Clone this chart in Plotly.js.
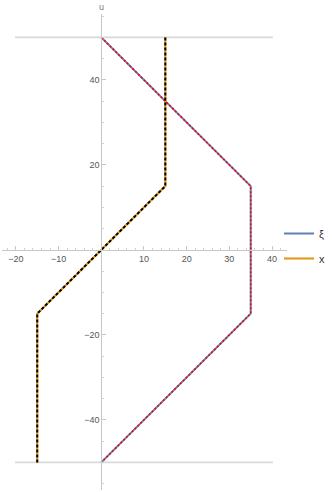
<!DOCTYPE html>
<html>
<head>
<meta charset="utf-8">
<script src="https://cdn.plot.ly/plotly-3.0.1.min.js"></script>
<style>
  html, body { margin: 0; padding: 0; background: #fff; }
  #chart { width: 332px; height: 492px; }
</style>
</head>
<body>
<div id="chart"></div>
<script>
// curve ξ(u)
const uXi = [50, 15, -15, -50];
const xiVals = [0, 35, 35, 0];
// curve x(u)
const uX = [-50, -15, 15, 50];
const xVals = [-15, -15, 15, 15];
// horizontal boundary lines
const boundU = [50, -50];
const boundSpan = [-20.2, 40.2];

const xTicks = [-20, -10, 10, 20, 30, 40];
const yTicks = [-40, -20, 20, 40];

const blue = '#5E81B5';
const orange = '#E19C24';

var xMinor = [];
for (let v = -22; v <= 42; v += 2) {
    if (v !== 0 && v % 10 !== 0) xMinor.push(v);
}
var yMinor = [];
for (let v = -55; v <= 55; v += 5) {
    if (v !== 0 && v % 20 !== 0) yMinor.push(v);
}

var traces = [
    {
        x: xiVals, y: uXi, type: 'scatter', mode: 'lines', name: 'ξ',
        line: { color: blue, width: 2 }, legendgroup: 'a'
    },
    {
        x: xVals, y: uX, type: 'scatter', mode: 'lines', name: 'x',
        line: { color: orange, width: 2.2 }, legendgroup: 'b'
    },
    {
        x: xiVals, y: uXi, type: 'scatter', mode: 'lines', showlegend: false,
        line: { color: '#ff0000', width: 1.6, dash: '2px,2px' }
    },
    {
        x: xVals, y: uX, type: 'scatter', mode: 'lines', showlegend: false,
        line: { color: '#000000', width: 2, dash: '3px,2px' }
    }
];

var shapes = boundU.map(u => ({
    type: 'line', xref: 'x', yref: 'y', layer: 'below',
    x0: boundSpan[0], x1: boundSpan[1], y0: u, y1: u,
    line: { color: '#d9d9d9', width: 1.6 }
}));

var layout = {
    width: 332,
    height: 492,
    margin: { l: 2, r: 45, t: 14, b: 2, autoexpand: false },
    paper_bgcolor: '#fff',
    plot_bgcolor: 'rgba(0,0,0,0)',
    font: { family: 'Liberation Sans, Arial, sans-serif', size: 9, color: '#555' },
    showlegend: true,
    legend: {
        x: 0.972, xanchor: 'left', y: 0.5126, yanchor: 'middle',
        font: { size: 11, color: '#333' },
        tracegroupgap: 6,
        itemwidth: 30,
        bgcolor: 'rgba(0,0,0,0)'
    },
    xaxis: {
        range: [-23.25, 43.5],
        anchor: 'free', position: 0.5045,
        showgrid: false, zeroline: false,
        showline: true, linecolor: '#c8c8c8', linewidth: 1,
        tickmode: 'array', tickvals: xTicks,
        ticks: 'inside', ticklen: 4, tickcolor: '#c8c8c8', tickwidth: 1,
        minor: { tickmode: 'array', tickvals: xMinor, ticks: 'inside', ticklen: 2, tickcolor: '#d0d0d0' },
        tickfont: { size: 9, color: '#555' }
    },
    yaxis: {
        range: [-56.5, 55.5],
        anchor: 'free', position: 0.3484,
        showgrid: false, zeroline: false,
        showline: true, linecolor: '#c8c8c8', linewidth: 1,
        tickmode: 'array', tickvals: yTicks,
        ticks: 'inside', ticklen: 4, tickcolor: '#c8c8c8', tickwidth: 1,
        minor: { tickmode: 'array', tickvals: yMinor, ticks: 'inside', ticklen: 2, tickcolor: '#d0d0d0' },
        tickfont: { size: 9, color: '#555' }
    },
    shapes: shapes,
    annotations: [{
        text: 'u', xref: 'x', yref: 'paper', x: 0, y: 1,
        yanchor: 'bottom', showarrow: false, yshift: 0,
        font: { size: 9, color: '#777' }
    }]
};

Plotly.newPlot('chart', traces, layout, { staticPlot: true, displayModeBar: false });
</script>
</body>
</html>
